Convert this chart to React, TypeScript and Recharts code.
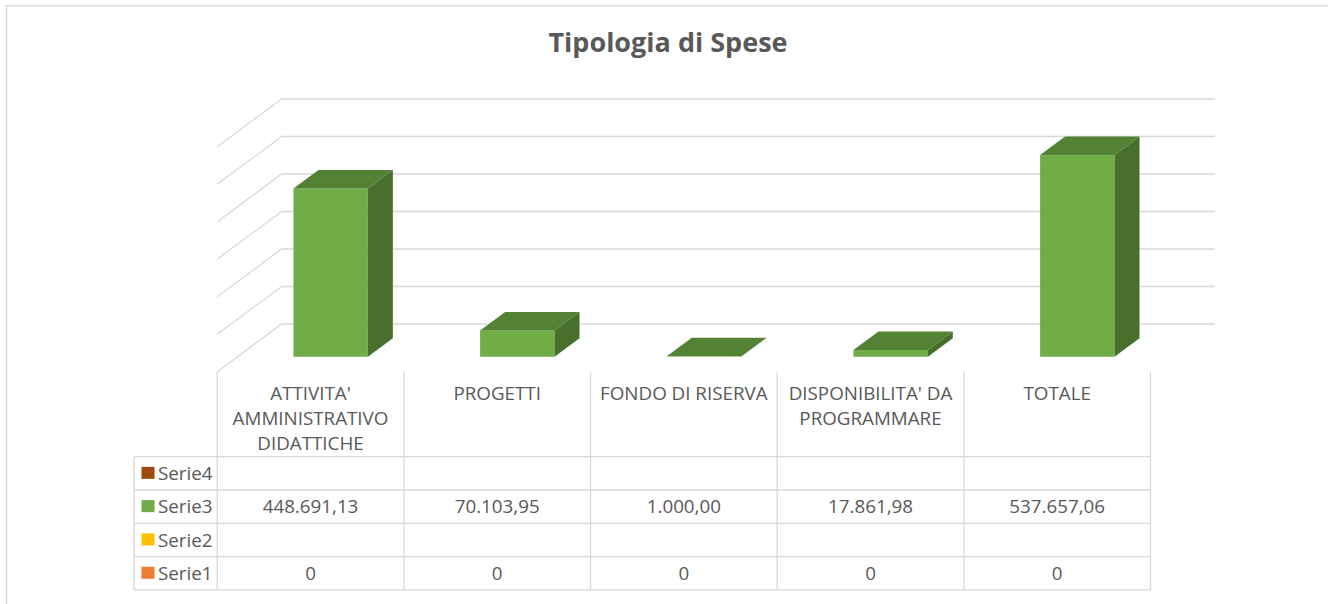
import { BarChart, Bar, XAxis, YAxis, CartesianGrid } from 'recharts'

const categories = [
  "ATTIVITA' AMMINISTRATIVO DIDATTICHE",
  'PROGETTI',
  'FONDO DI RISERVA',
  "DISPONIBILITA' DA PROGRAMMARE",
  'TOTALE',
]
const tickLabels = [
  ["ATTIVITA'", 'AMMINISTRATIVO', 'DIDATTICHE'],
  ['PROGETTI'],
  ['FONDO DI RISERVA'],
  ["DISPONIBILITA' DA", 'PROGRAMMARE'],
  ['TOTALE'],
]
const serie1 = [0, 0, 0, 0, 0]
const serie2: (number | null)[] = [null, null, null, null, null]
const serie3 = [448691.13, 70103.95, 1000.0, 17861.98, 537657.06]
const serie4: (number | null)[] = [null, null, null, null, null]
const yTicks = [0, 100000, 200000, 300000, 400000, 500000, 600000]

// table rows, top to bottom
const tableRows = [
  { name: 'Serie4', values: serie4, color: '#9E480E', decimals: 2 },
  { name: 'Serie3', values: serie3, color: '#70AD47', decimals: 2 },
  { name: 'Serie2', values: serie2, color: '#FFC000', decimals: 2 },
  { name: 'Serie1', values: serie1, color: '#ED7D31', decimals: 0 },
]

const data = categories.map((c, i) => ({ category: c, serie3: serie3[i] }))

// 3d look: back wall -> front floor offset
const DEPTH_X = -64.5
const DEPTH_Y = 47.7
const BAR_POS = 0.686
const BAR_DX = 25
const BAR_DY = -18.5

const PLOT_LEFT = 281.7
const PLOT_RIGHT = 1215
const COL_W = (PLOT_RIGHT - PLOT_LEFT) / categories.length
const HEADER_H = 85
const ROW_H = 33.3
const LEGEND_LEFT = 134

const FONT = "'Open Sans', sans-serif"
const FS = 18.8
const TEXT = '#595959'
const LINE = '#D9D9D9'

const fmt = (v: number | null, decimals: number) => {
  if (v === null || v === undefined) return ''
  const [int, dec] = v.toFixed(decimals).split('.')
  const withDots = int.replace(/\B(?=(\d{3})+(?!\d))/g, '.')
  return dec ? withDots + ',' + dec : withDots
}

const Bar3D = (props: any) => {
  const { x, y, width, height } = props
  const fx = x + DEPTH_X * BAR_POS
  const fy = y + DEPTH_Y * BAR_POS
  const w = width
  const h = height
  return (
    <g>
      <rect x={fx} y={fy} width={w} height={h} fill="#70AD47" />
      <polygon
        points={`${fx},${fy} ${fx + BAR_DX},${fy + BAR_DY} ${fx + w + BAR_DX},${fy + BAR_DY} ${fx + w},${fy}`}
        fill="#548235"
      />
      <polygon
        points={`${fx + w},${fy} ${fx + w + BAR_DX},${fy + BAR_DY} ${fx + w + BAR_DX},${fy + h + BAR_DY} ${fx + w},${fy + h}`}
        fill="#48702C"
      />
    </g>
  )
}

const TableColumn = (props: any) => {
  const { x, y, index } = props
  const cx = x + DEPTH_X
  const left = cx - COL_W / 2
  const right = cx + COL_W / 2
  const top = y + DEPTH_Y
  const rowsTop = top + HEADER_H
  const bottom = rowsTop + ROW_H * tableRows.length
  const lines = tickLabels[index] || []

  return (
    <g>
      <line x1={left} y1={top} x2={left} y2={bottom} stroke={LINE} strokeWidth={1.3} />
      {index === categories.length - 1 && (
        <line x1={right} y1={top} x2={right} y2={bottom} stroke={LINE} strokeWidth={1.3} />
      )}
      {lines.map((l: string, k: number) => (
        <text key={k} x={cx} y={top + 28.3 + k * 25} textAnchor="middle" fill={TEXT} fontSize={FS} fontFamily={FONT}>
          {l}
        </text>
      ))}
      {tableRows.map((r, k) => (
        <text key={'v' + k} x={cx} y={rowsTop + ROW_H * k + ROW_H / 2 + 6.6} textAnchor="middle" fill={TEXT} fontSize={FS} fontFamily={FONT}>
          {fmt(r.values[index], r.decimals)}
        </text>
      ))}
      {tableRows.map((_, k) => (
        <line key={'h' + k} x1={index === 0 ? LEGEND_LEFT : left} y1={rowsTop + ROW_H * k} x2={right} y2={rowsTop + ROW_H * k} stroke={LINE} strokeWidth={1.3} />
      ))}
      <line x1={index === 0 ? LEGEND_LEFT : left} y1={bottom} x2={right} y2={bottom} stroke={LINE} strokeWidth={1.3} />
      {index === 0 && (
        <g>
          <line x1={LEGEND_LEFT} y1={rowsTop} x2={LEGEND_LEFT} y2={bottom} stroke={LINE} strokeWidth={1.3} />
          {tableRows.map((r, k) => {
            const mid = rowsTop + ROW_H * k + ROW_H / 2
            return (
              <g key={'l' + k}>
                <rect x={LEGEND_LEFT + 7.5} y={mid - 6.5} width={13} height={12} fill={r.color} />
                <text x={LEGEND_LEFT + 24} y={mid + 6.6} fill={TEXT} fontSize={FS} fontFamily={FONT}>
                  {r.name}
                </text>
              </g>
            )
          })}
        </g>
      )}
    </g>
  )
}

const gridLine = (p: any) => (
  <path
    key={p.key}
    d={`M${p.x1 + DEPTH_X},${p.y1 + DEPTH_Y} L${p.x1},${p.y1} L${p.x2},${p.y2}`}
    stroke={LINE}
    strokeWidth={1.3}
    fill="none"
  />
)

export default function App() {
  return (
    <div style={{ position: 'absolute', left: 0, top: 0, width: 1328, height: 604, overflow: 'hidden', background: '#fff' }}>
      <svg style={{ position: 'absolute', left: 0, top: 0 }} width={1328} height={604}>
        <path d="M6.5,604 V5.8 H1328" stroke={LINE} strokeWidth={1.5} fill="none" />
        <text x={668} y={51.7} textAnchor="middle" fill={TEXT} fontSize={27} fontWeight="bold" fontFamily={FONT}>
          Tipologia di Spese
        </text>
      </svg>
      <div style={{ position: 'absolute', left: 0, top: 0 }}>
        <BarChart
          width={1328}
          height={604}
          data={data}
          margin={{ top: 99, right: 1328 - PLOT_RIGHT, left: PLOT_LEFT, bottom: 250 }}
          style={{ overflow: 'visible' }}
        >
          <CartesianGrid vertical={false} horizontal={gridLine} />
          <XAxis
            dataKey="category"
            height={30}
            axisLine={false}
            tickLine={false}
            tickSize={0}
            tickMargin={0}
            interval={0}
            tick={<TableColumn />}
          />
          <YAxis hide width={0} type="number" domain={[0, 600000]} ticks={yTicks} />
          <Bar dataKey="serie3" barSize={74.4} shape={<Bar3D />} isAnimationActive={false} />
        </BarChart>
      </div>
    </div>
  )
}
